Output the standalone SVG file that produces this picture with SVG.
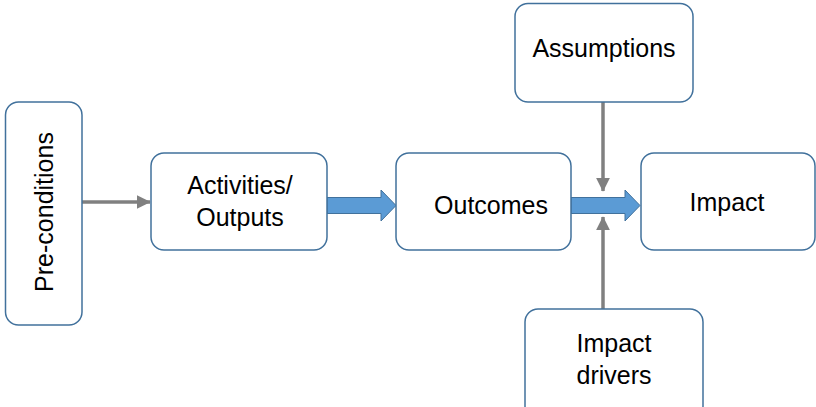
<svg xmlns="http://www.w3.org/2000/svg" width="816" height="407" viewBox="0 0 816 407">
  <style>
    .box { fill: #ffffff; stroke: #41719c; stroke-width: 1.5; }
    .lbl { font-family: "Liberation Sans", Arial, sans-serif; font-size: 25px; fill: #000000; text-anchor: middle; }
    .flow { fill: #5b9bd5; stroke: #41719c; stroke-width: 1; }
    .link { stroke: #808080; stroke-width: 3.5; fill: none; }
  </style>
  <defs>
    <marker id="grayHead" markerWidth="4" markerHeight="4" refX="3.8" refY="2" orient="auto" markerUnits="strokeWidth">
      <path d="M0,0 L4,2 L0,4 Z" fill="#808080"/>
    </marker>
  </defs>

  <!-- connectors -->
  <g id="connectors">
    <line class="link" x1="82" y1="202" x2="150" y2="202" marker-end="url(#grayHead)"/>
    <line class="link" x1="603" y1="102" x2="603" y2="191" marker-end="url(#grayHead)"/>
    <line class="link" x1="603" y1="309" x2="603" y2="217" marker-end="url(#grayHead)"/>
    <path class="flow" d="M327,197.5 L381,197.5 L381,190 L396,205.5 L381,221 L381,213.5 L327,213.5 Z"/>
    <path class="flow" d="M571,197.5 L625,197.5 L625,190 L640,205.5 L625,221 L625,213.5 L571,213.5 Z"/>
  </g>

  <g id="pre-conditions">
    <rect class="box" x="5.5" y="102" width="76.5" height="223" rx="13"/>
    <text class="lbl" transform="translate(53,212) rotate(-90)">Pre-conditions</text>
  </g>

  <g id="activities">
    <rect class="box" x="151" y="153" width="176" height="97" rx="13"/>
    <text class="lbl" x="240" y="194">Activities/</text>
    <text class="lbl" x="240" y="226">Outputs</text>
  </g>

  <g id="outcomes">
    <rect class="box" x="396" y="153" width="175" height="97" rx="13"/>
    <text class="lbl" x="491" y="214">Outcomes</text>
  </g>

  <g id="impact">
    <rect class="box" x="641" y="153" width="174" height="97" rx="13"/>
    <text class="lbl" x="727" y="211">Impact</text>
  </g>

  <g id="assumptions">
    <rect class="box" x="515" y="3.5" width="178" height="98.5" rx="13"/>
    <text class="lbl" x="604" y="57">Assumptions</text>
  </g>

  <g id="impact-drivers">
    <rect class="box" x="525" y="309" width="178" height="110" rx="13"/>
    <text class="lbl" x="614" y="352">Impact</text>
    <text class="lbl" x="614" y="384">drivers</text>
  </g>
</svg>
